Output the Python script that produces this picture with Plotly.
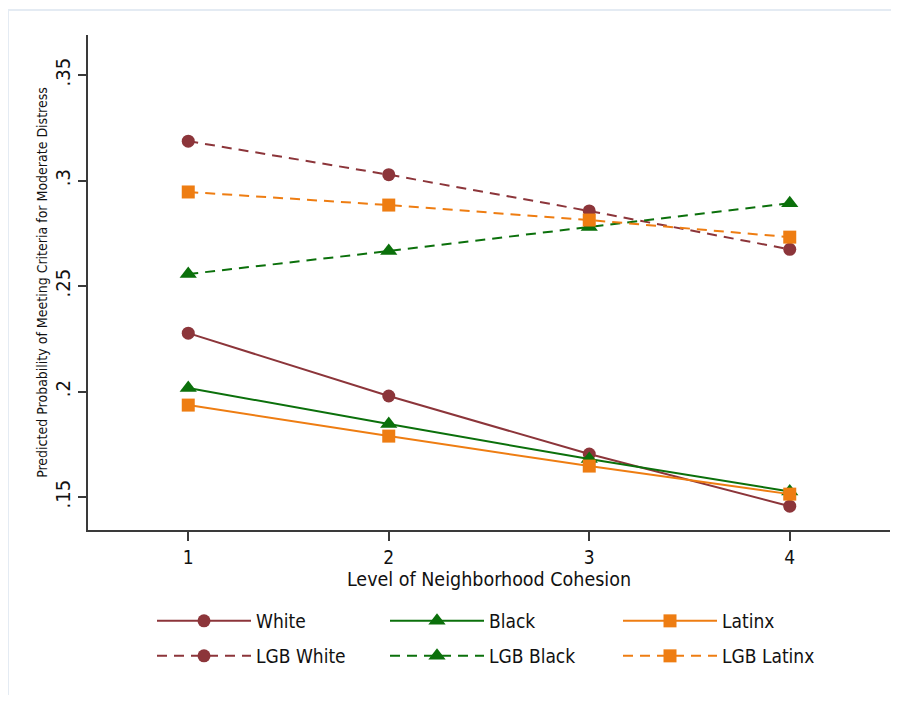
import plotly.graph_objects as go

cohesion = [1, 2, 3, 4]
white = [0.2277, 0.1979, 0.1704, 0.1457]
black = [0.2017, 0.1846, 0.1680, 0.1527]
latinx = [0.1936, 0.1789, 0.1647, 0.1514]
lgb_white = [0.3187, 0.3028, 0.2856, 0.2674]
lgb_black = [0.2557, 0.2666, 0.2780, 0.2893]
lgb_latinx = [0.2946, 0.2884, 0.2813, 0.2732]

y_ticks = [0.15, 0.2, 0.25, 0.3, 0.35]
y_ticklabels = [".15", ".2", ".25", ".3", ".35"]

MAROON = "#8C353A"
GREEN = "#0B700B"
ORANGE = "#EE7D12"
FONT = "Liberation Sans Narrow, DejaVu Sans Condensed, Arial Narrow, sans-serif"

series = [
    ("White", white, MAROON, "circle", "solid", "legend"),
    ("Black", black, GREEN, "triangle-up", "solid", "legend"),
    ("Latinx", latinx, ORANGE, "square", "solid", "legend"),
    ("LGB White", lgb_white, MAROON, "circle", "10px,7px", "legend2"),
    ("LGB Black", lgb_black, GREEN, "triangle-up", "10px,7px", "legend2"),
    ("LGB Latinx", lgb_latinx, ORANGE, "square", "10px,7px", "legend2"),
]

fig = go.Figure()
for name, vals, col, sym, dash, leg in series:
    fig.add_trace(go.Scatter(
        x=cohesion, y=vals, name=name, mode="lines+markers",
        line=dict(color=col, width=2, dash=dash),
        marker=dict(color=col, symbol=sym, size=13 if sym != "triangle-up" else 15),
        legend=leg,
    ))

# page body adds an 8px offset; work in figure coords = screen - 8
OFF = 8
W, H = 899 - 2 * OFF, 703 - 2 * OFF
L = 88 - OFF
T = 35 - OFF
R = W - (890 - OFF)
B = H - (530 - OFF)
pw = W - L - R
ph = H - T - B

def px(screen_x):
    return (screen_x - OFF - L) / pw

def py(screen_y):
    return (H - B - (screen_y - OFF)) / ph

leg_common = dict(
    orientation="h", xanchor="left", yanchor="middle",
    font=dict(family=FONT, size=19, color="#111"),
    entrywidth=124, entrywidthmode="pixels", itemwidth=94,
    bgcolor="rgba(0,0,0,0)", tracegroupgap=0,
)

fig.update_layout(
    width=W, height=H,
    margin=dict(l=L, r=R, t=T, b=B),
    paper_bgcolor="white", plot_bgcolor="white",
    font=dict(family=FONT, color="#111"),
    xaxis=dict(
        range=[0.5, 4.5], tickvals=cohesion, ticktext=[str(c) for c in cohesion],
        showgrid=False, zeroline=False, showline=True, linecolor="#3a3a3a", linewidth=2,
        ticks="outside", ticklen=9, tickwidth=1.5, tickcolor="#3a3a3a",
        tickfont=dict(family=FONT, size=19),
        title=dict(text="Level of Neighborhood Cohesion", font=dict(family=FONT, size=19.5), standoff=0),
    ),
    yaxis=dict(
        range=[0.1344, 0.369], tickvals=y_ticks, ticktext=y_ticklabels,
        showgrid=False, zeroline=False, showline=True, linecolor="#3a3a3a", linewidth=2,
        ticks="outside", ticklen=8, tickwidth=1.5, tickcolor="#3a3a3a",
        tickangle=-90, tickfont=dict(family=FONT, size=20),
        title=dict(text="Predicted Probability of Meeting Criteria for Moderate Distress",
                   font=dict(family=FONT, size=14), standoff=0),
    ),
    legend=dict(x=px(152), y=py(621), **leg_common),
    legend2=dict(x=px(152), y=py(656), **leg_common),
    shapes=[dict(type="rect", xref="paper", yref="paper",
                 x0=px(8), x1=px(910), y0=py(715), y1=py(10),
                 line=dict(color="#E4EBF3", width=2), fillcolor="rgba(0,0,0,0)", layer="below")],
)

fig.write_html("out.html")
